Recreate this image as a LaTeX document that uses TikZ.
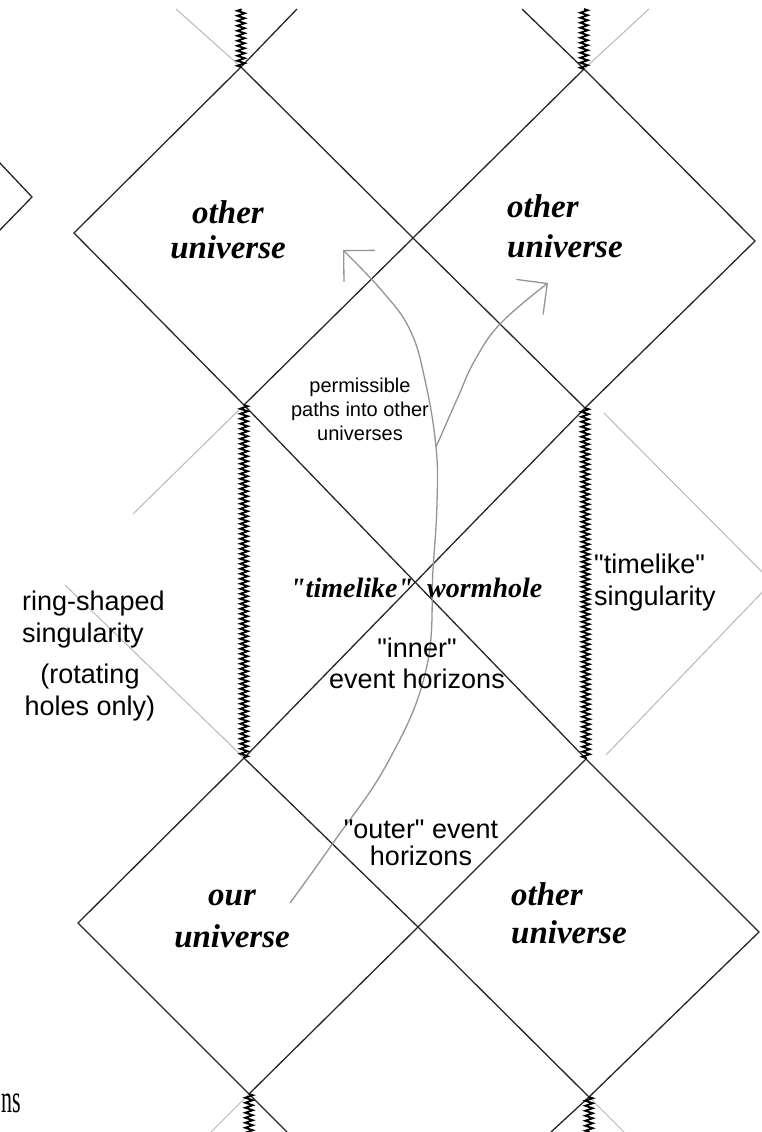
\documentclass[tikz,border=0pt]{standalone}
\usepackage{fontspec}
\setmainfont{Liberation Serif}
\newfontfamily\sansfont{Liberation Sans}
\newfontfamily\plainserif{Liberation Serif}
\usetikzlibrary{decorations.pathmorphing,arrows.meta}

\begin{document}
\begin{tikzpicture}[x=1pt,y=-1pt,
  every node/.append style={inner sep=0pt},
  hor/.style={black!85, line width=1.3pt},
  faint/.style={black!28, line width=1pt},
  sing/.style={black, line width=1.8pt, decorate,
    decoration={zigzag, segment length=5pt, amplitude=3.8pt}},
  wpath/.style={black!42, line width=1.3pt, -{Straight Barb[length=22pt,width=44pt]}},
  univ/.style={font=\fontsize{33}{35}\selectfont\bfseries\itshape},
  lbl/.style={font=\sansfont\fontsize{27}{32}\selectfont}]
\useasboundingbox (0,0) rectangle (762,1132);
\clip (0,0) rectangle (762,1132);
% vertices of the diagram
\coordinate (tlT) at (241,67);
\coordinate (tlL) at (74,233);
\coordinate (wT) at (413,238);
\coordinate (trT) at (584,69);
\coordinate (trR) at (755,241);
\coordinate (sLt) at (244,405);
\coordinate (sRt) at (585,408);
\coordinate (sLb) at (244,758);
\coordinate (sRb) at (586,759);
\coordinate (bC) at (418,927);
\coordinate (blL) at (78,923);
\coordinate (brR) at (759,932);
\coordinate (blB) at (249,1094);
\coordinate (brB) at (589,1097);
\coordinate (pL) at (32,197);
% faint continuations
\draw [faint] (176,9) -- (tlT);
\draw [faint] (trT) -- (649,9);
\draw [faint] (sLt) -- (133,514);
\draw [faint] (65,585) -- (sLb);
\draw [faint] (604,413) -- (772,582) -- (606,755);
\draw [faint] (blB) -- (211,1132);
\draw [faint] (brB) -- (624,1132);
% horizons
\draw [hor] (tlT) -- (297,9);
\draw [hor] (522,9) -- (trT);
\draw [hor] (-2,161) -- (pL) -- (-2,232);
\draw [hor] (tlT) -- (wT) -- (sLt) -- (tlL) -- cycle;
\draw [hor] (trT) -- (trR) -- (sRt) -- (wT) -- cycle;
\draw [hor] (sLt) -- (sRb);
\draw [hor] (sRt) -- (sLb);
\draw [hor] (sLb) -- (bC) -- (blB) -- (blL) -- cycle;
\draw [hor] (sRb) -- (brR) -- (brB) -- (bC) -- cycle;
\draw [hor] (blB) -- (287,1132);
\draw [hor] (brB) -- (551,1132);
% singularities
\draw [sing] (tlT) -- (241,9);
\draw [sing] (trT) -- (584,9);
\draw [sing] (sLt) -- (sLb);
\draw [sing] (sRt) -- (sRb);
\draw [sing] (blB) -- (249,1134);
\draw [sing] (brB) -- (589,1134);
% paths into other universes
\coordinate (start) at (290,903);
\coordinate (fork) at (436,447);
\coordinate (tipL) at (343,250);
\coordinate (tipR) at (548,283);
\draw [wpath] plot [smooth, tension=0.7] coordinates {(start) (333,843) (388,762) (426,670)
  (433,570) (437,503) (fork) (425,380) (410,330) (383,292) (tipL)};
\draw [wpath] plot [smooth, tension=0.7] coordinates {(fork) (458,397) (475,360) (501,323) (tipR)};
% labels
\node [univ, align=center, anchor=base] (ouTL) at (228,258) {other\\universe};
\node [univ, align=left, anchor=base west] (ouTR) at (507,257) {other\\[5pt]universe};
\node [univ, align=center, anchor=base] (our) at (232,947) {our\\[7pt]universe};
\node [univ, align=left, anchor=base west] (ouBR) at (511,943) {other\\[3pt]universe};
\node [font=\sansfont\fontsize{20}{24}\selectfont, align=center, anchor=base] (perm) at (360,440)
  {permissible\\paths into other\\universes};
\node [font=\plainserif\fontsize{28}{31}\selectfont\bfseries\itshape, anchor=base west] (tl) at (290,597) {"timelike"};
\node [font=\plainserif\fontsize{28}{31}\selectfont\bfseries\itshape, anchor=base west] (wh) at (427,597) {wormhole};
\node [align=center, anchor=base, font=\sansfont\fontsize{27}{31}\selectfont] (inner) at (417,688)
  {"inner"\\event horizons};
\node [align=center, anchor=base, font=\sansfont\fontsize{27}{27}\selectfont] (outer) at (421,865)
  {"outer" event\\horizons};
\node [lbl, align=left, anchor=base west] (tsing) at (594,605) {"timelike"\\singularity};
\node [lbl, align=left, anchor=base west] (ring) at (22,642) {ring-shaped\\singularity};
\node [lbl, align=center, anchor=base] (rot) at (90,715) {(rotating\\holes only)};
\node [font=\fontsize{22}{24}\selectfont, anchor=base west] (ns) at (1,1112) {\scalebox{1}[1.8]{ns}};
\end{tikzpicture}
\end{document}
